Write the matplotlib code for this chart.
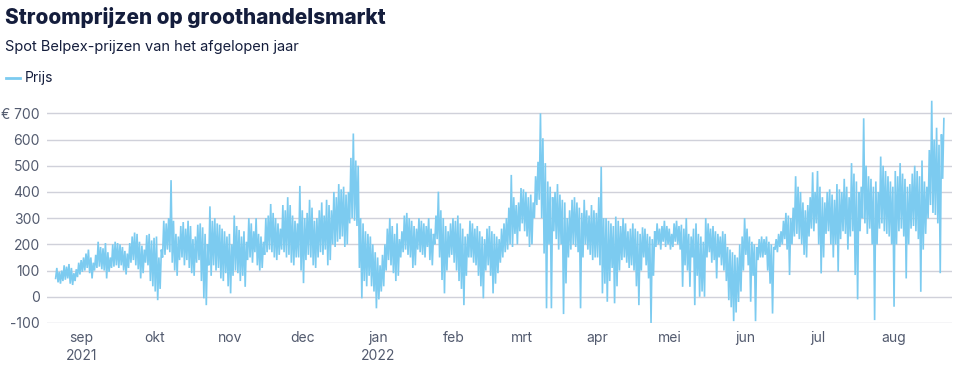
import datetime as dt
import matplotlib
matplotlib.use("Agg")
import matplotlib.pyplot as plt
import matplotlib.dates as mdates

# dagelijkse laagste / hoogste prijs (EUR/MWh)
start = dt.date(2021, 8, 21)

lows = [
    # aug 2021
    70, 55, 50, 60, 65, 70, 50, 45, 60, 75, 85,
    # sep
    95, 100, 110, 90, 70, 100,
    110, 115, 105, 100, 70, 95, 110,
    115, 120, 110, 120, 100, 85, 110,
    130, 140, 120, 105, 70, 90, 130,
    120, 60, 40,
    # okt
    20, -13, 30,
    150, 160, 180, 170, 130, 100, 80,
    140, 150, 120, 140, 110, 90, 80,
    130, 140, 60, -6, -32, 120, 80,
    120, 100, 110, 70, 60, 90, 40,
    # nov
    13, 80, 100, 90, 60, 80, 38,
    140, 150, 130, 170, 120, 100, 110,
    160, 170, 180, 170, 150, 140, 160,
    180, 170, 150, 160, 130, 120, 150,
    150, 100,
    # dec
    52, 140, 160, 150, 120, 110, 150,
    170, 160, 180, 120, 140, 200, 190,
    210, 220, 230, 190, 200, 280, 300,
    290, 270, 110, -6, 60, 40, 80,
    40, 20, -44,
    # jan 2022
    -10, 20, 40,
    100, 140, 120, 90, 60, 80, 150,
    170, 180, 160, 150, 110, 120, 180,
    170, 160, 150, 190, 140, 120, 200,
    220, 150, 64, 13, 100, 150, 160,
    # feb
    130, 100, 60, 30, -32, 80, 150,
    150, 130, 120, 80, 40, -6, 100,
    120, 80, 13, 50, 90, 130, 150,
    170, 180, 200, 190, 240, 200, 250,
    # mrt
    280, 250, 230, 190, 200, 300, 350,
    370, 300, 165, -44, 200, -44, 250,
    220, 180, 200, -66, 51, 150, 180,
    200, 190, 170, -44, 150, 200, 180,
    160, 140, 150,
    # apr
    150, 120, 13, 50, -19, 60, 110,
    -25, 40, 100, 140, 150, 130, 110,
    120, 100, 40, -32, 100, 150, 120,
    70, -101, 80, 190, 200, 180, 210,
    190, 200,
    # mei
    180, 190, 210, 200, 180, 38, 120,
    100, 38, 150, -32, 80, 0, 20,
    0, 150, 170, 130, 140, 70, 150,
    120, 100, 60, -13, -40, -93, -60,
    -20, 20, 100,
    # jun
    160, 120, -19, 80, -93, 140, 150,
    150, 160, 100, 50, -64, 180, 170,
    190, 200, 220, 180, 83, 200, 230,
    240, 220, 200, 160, 150, 230, 260,
    250, 280,
    # jul
    200, 89, 150, 240, 250, 200, 150,
    200, 96, 220, 250, 240, 180, 230,
    250, 83, -10, 250, 300, 280, 240,
    260, 200, -89, 200, 260, 280, 250,
    240, 230, 200,
    # aug
    -38, 200, 250, 260, 230, 70, 200,
    260, 270, 250, 220, 19, 180, 240,
    300, 350, 320, 312, 280, 90, 450,
]

highs = [
    # aug 2021
    110, 95, 100, 120, 115, 125, 110, 90, 105, 130, 140,
    # sep
    150, 165, 180, 150, 130, 160,
    210, 190, 185, 205, 170, 150, 200,
    210, 205, 200, 190, 175, 165, 205,
    230, 245, 240, 210, 195, 180, 235,
    240, 215, 225,
    # okt
    230, 150, 180,
    290, 280, 300, 445, 290, 240, 230,
    270, 285, 260, 290, 270, 220, 230,
    275, 280, 265, 240, 200, 345, 290,
    300, 280, 275, 260, 250, 230, 240,
    # nov
    200, 310, 270, 255, 230, 250, 210,
    300, 280, 250, 300, 240, 230, 210,
    300, 310, 354, 320, 300, 280, 260,
    350, 330, 380, 350, 310, 290, 280,
    423, 330,
    # dec
    300, 320, 370, 340, 290, 300, 330,
    360, 310, 370, 350, 330, 400, 380,
    430, 410, 420, 390, 400, 530, 623,
    520, 500, 300, 280, 250, 240, 230,
    200, 170, 150,
    # jan 2022
    120, 160, 200,
    260, 300, 270, 240, 280, 220, 250,
    310, 320, 300, 290, 270, 260, 300,
    290, 280, 270, 300, 260, 240, 310,
    401, 330, 300, 270, 250, 280, 300,
    # feb
    290, 310, 280, 260, 230, 240, 290,
    280, 260, 270, 250, 230, 220, 260,
    270, 250, 240, 230, 220, 260, 280,
    300, 340, 465, 380, 350, 360, 415,
    # mrt
    410, 400, 380, 390, 360, 460, 515,
    700, 605, 510, 440, 420, 380, 400,
    430, 390, 370, 360, 300, 330, 370,
    380, 360, 340, 320, 370, 330, 310,
    350, 330, 320,
    # apr
    380, 496, 300, 300, 290, 280, 270,
    306, 290, 270, 300, 280, 250, 260,
    280, 260, 250, 240, 265, 260, 240,
    230, 220, 250, 280, 260, 270, 290,
    270, 260,
    # mei
    240, 280, 290, 270, 275, 260, 300,
    240, 230, 260, 280, 240, 230, 210,
    300, 280, 260, 270, 250, 240, 230,
    250, 240, 190, 180, 170, 160, 150,
    200, 230, 300,
    # jun
    260, 230, 210, 200, 190, 220, 230,
    220, 230, 210, 200, 190, 220, 240,
    250, 290, 320, 310, 300, 340, 460,
    420, 400, 360, 330, 350, 380, 475,
    400, 480,
    # jul
    420, 380, 360, 400, 410, 390, 370,
    430, 410, 400, 450, 420, 380, 510,
    470, 440, 400, 420, 681, 500, 460,
    450, 420, 440, 400, 535, 500, 480,
    460, 440, 420,
    # aug
    480, 460, 510, 470, 450, 420, 430,
    470, 500, 480, 460, 520, 440, 420,
    560, 748, 600, 645, 580, 620, 680,
]

month_labels = ["sep\n2021", "okt", "nov", "dec", "jan\n2022", "feb",
                "mrt", "apr", "mei", "jun", "jul", "aug"]
month_starts = [dt.date(2021, 9, 1), dt.date(2021, 10, 1), dt.date(2021, 11, 1),
                dt.date(2021, 12, 1), dt.date(2022, 1, 1), dt.date(2022, 2, 1),
                dt.date(2022, 3, 1), dt.date(2022, 4, 1), dt.date(2022, 5, 1),
                dt.date(2022, 6, 1), dt.date(2022, 7, 1), dt.date(2022, 8, 1)]
y_ticks = [-100, 0, 100, 200, 300, 400, 500, 600, 700]
y_labels = ["-100", "0", "100", "200", "300", "400", "500", "600", "€ 700"]

# tijdreeks opbouwen: per dag eerst het dal, dan de piek
t0 = mdates.date2num(start)
times, prices = [], []
for i, (lo, hi) in enumerate(zip(lows, highs)):
    times += [t0 + i + 0.25, t0 + i + 0.75]
    prices += [lo, hi]

plt.rcParams['font.family'] = ['Inter', 'DejaVu Sans']

fig = plt.figure(figsize=(9.63, 3.79), dpi=100, facecolor='white')
ax = fig.add_axes([0.0488, 0.1478, 0.9398, 0.5947])

line_color = '#7ccbf0'
ax.plot(times, prices, color=line_color, lw=1.2, solid_joinstyle='miter')

ax.set_ylim(-100, 760)
ax.set_xlim(t0 - 3.3, t0 + 369.1)
ax.set_yticks(y_ticks)
ax.set_yticklabels(y_labels)
ax.set_xticks([mdates.date2num(m) for m in month_starts])
ax.set_xticklabels(month_labels, linespacing=1.35)
ax.grid(axis='y', color='#d0d1da', lw=1)
ax.set_axisbelow(True)
for s in ax.spines.values():
    s.set_visible(False)
ax.tick_params(axis='both', length=0, labelsize=10, colors='#525a6e')
ax.tick_params(axis='y', pad=5)
ax.tick_params(axis='x', pad=6)

fig.text(0.005, 0.955, "Stroomprijzen op groothandelsmarkt", fontsize=15,
         fontweight='heavy', color='#141d3c', va='center', ha='left')
fig.text(0.005, 0.875, "Spot Belpex-prijzen van het afgelopen jaar", fontsize=10.5,
         color='#141d3c', va='center', ha='left')
fig.lines.append(plt.Line2D([0.006, 0.021], [0.793, 0.793], transform=fig.transFigure,
                            color=line_color, lw=2))
fig.text(0.026, 0.793, "Prijs", fontsize=10, color='#141d3c', va='center', ha='left')

fig.savefig('out.png', dpi=100, facecolor='white')
